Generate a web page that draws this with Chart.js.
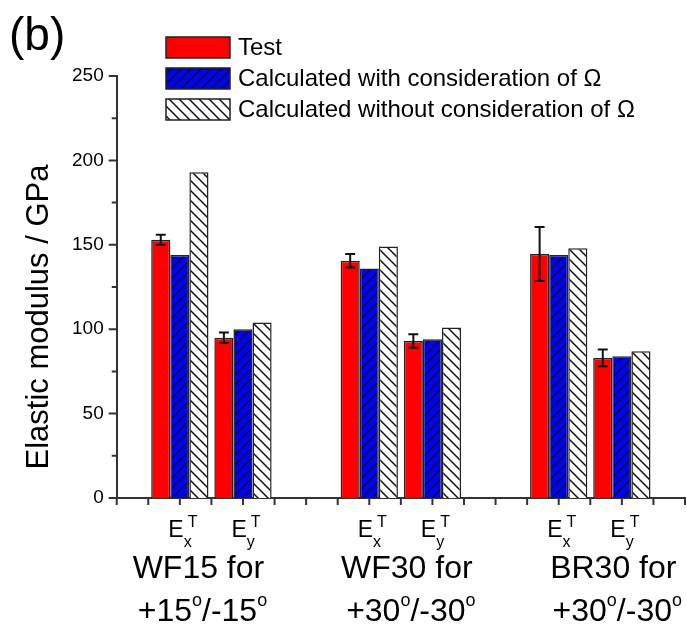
<!DOCTYPE html>
<html>
<head>
<meta charset="utf-8">
<script src="https://cdn.jsdelivr.net/npm/chart.js@4.4.0/dist/chart.umd.min.js"></script>
<style>
  html, body { margin: 0; padding: 0; background: #fff; }
  canvas { display: block; }
</style>
</head>
<body>
<canvas id="chart" width="687" height="632"></canvas>
<script>
// ── Data ─────────────────────────────────────────────────────────────────────
const groupNames  = ['WF15 for', 'WF30 for', 'BR30 for'];
const groupAngles = ['+15°/-15°', '+30°/-30°', '+30°/-30°'];
const components  = ['x', 'y'];               // E_x^T, E_y^T inside each group

const testVals     = [153, 95, 140.5, 93, 144.5, 83];
const testErr      = [3, 3, 4, 4, 16, 5];
const withOmega    = [144, 100, 136, 94, 144, 84];
const withoutOmega = [193, 104, 149, 101, 148, 87];

const seriesNames = ['Test', 'Calculated with consideration of Ω', 'Calculated without consideration of Ω'];
const yTicks = [0, 50, 100, 150, 200, 250];

// ── Layout helpers ───────────────────────────────────────────────────────────
const FONT = "'Liberation Sans', Arial, sans-serif";
const INK = '#111';

// bars sit on even slots of a 0..18 axis, with an empty pair of slots between groups
const slot = i => 2 + 2 * i + 2 * Math.floor(i / 2);
const asPoints = vals => vals.map((v, i) => ({ x: slot(i), y: v }));

function hatch(bg, forward) {
  const s = 10;
  const c = document.createElement('canvas');
  c.width = c.height = s;
  const g = c.getContext('2d');
  g.fillStyle = bg;
  g.fillRect(0, 0, s, s);
  g.strokeStyle = INK;
  g.lineWidth = 1.5;
  g.beginPath();
  if (forward) {           // "/"
    g.moveTo(-1, s + 1); g.lineTo(s + 1, -1);
    g.moveTo(-1, 1); g.lineTo(1, -1);
    g.moveTo(s - 1, s + 1); g.lineTo(s + 1, s - 1);
  } else {                 // "\"
    g.moveTo(-1, -1); g.lineTo(s + 1, s + 1);
    g.moveTo(s - 1, -1); g.lineTo(s + 1, 1);
    g.moveTo(-1, s - 1); g.lineTo(1, s + 1);
  }
  g.stroke();
  return g.createPattern(c, 'repeat');
}

const ctx0 = document.getElementById('chart').getContext('2d');
const fills = ['#ff0000', hatch('#0000ff', true), hatch('#ffffff', false)];

// ── Overlay: error bars, axis ticks, labels, legend ──────────────────────────
const overlay = {
  id: 'overlay',
  afterDraw(chart) {
    const { ctx, chartArea: a, scales: { x, y } } = chart;
    ctx.save();

    // error bars on the Test series
    const meta = chart.getDatasetMeta(0);
    ctx.strokeStyle = INK;
    ctx.lineWidth = 2;
    meta.data.forEach((bar, i) => {
      const yt = y.getPixelForValue(testVals[i] + testErr[i]);
      const yb = y.getPixelForValue(testVals[i] - testErr[i]);
      ctx.beginPath();
      ctx.moveTo(bar.x, yt); ctx.lineTo(bar.x, yb);
      ctx.moveTo(bar.x - 5, yt); ctx.lineTo(bar.x + 5, yt);
      ctx.moveTo(bar.x - 5, yb); ctx.lineTo(bar.x + 5, yb);
      ctx.stroke();
    });

    // x ticks at every slot
    ctx.strokeStyle = '#333';
    ctx.lineWidth = 2;
    ctx.beginPath();
    for (let v = x.min; v <= x.max; v++) {
      const px = x.getPixelForValue(v);
      ctx.moveTo(px, a.bottom); ctx.lineTo(px, a.bottom + 7);
    }
    // y ticks, major every 50 and minor every 25
    for (let v = y.min; v <= y.max; v += 25) {
      const py = y.getPixelForValue(v);
      const len = v % 50 === 0 ? 8 : 5;
      ctx.moveTo(a.left - len, py); ctx.lineTo(a.left, py);
    }
    ctx.stroke();

    // E_x^T / E_y^T under each bar group
    ctx.fillStyle = '#000';
    ctx.textBaseline = 'alphabetic';
    ctx.textAlign = 'left';
    testVals.forEach((_, i) => {
      const px = x.getPixelForValue(slot(i));
      const sub = components[i % 2];
      ctx.font = `23px ${FONT}`;
      const wE = ctx.measureText('E').width;
      ctx.font = `16px ${FONT}`;
      const wS = Math.max(ctx.measureText(sub).width, ctx.measureText('T').width + 4);
      const left = px - (wE + wS) / 2 + 3;
      ctx.font = `23px ${FONT}`;
      ctx.fillText('E', left, 537);
      ctx.font = `16px ${FONT}`;
      ctx.fillText(sub, left + wE, 547);
      ctx.fillText('T', left + wE + 4, 527);
    });

    // group captions, two lines, degree marks drawn as raised "o"
    const capShift = [-13, 6, 23];
    groupNames.forEach((name, g) => {
      const cx = (x.getPixelForValue(slot(2 * g)) + x.getPixelForValue(slot(2 * g + 1))) / 2 + capShift[g];
      ctx.font = `32px ${FONT}`;
      ctx.textAlign = 'center';
      ctx.fillText(name, cx, 578);

      const parts = groupAngles[g].split('°');
      ctx.textAlign = 'left';
      let w = 0;
      parts.forEach((p, k) => {
        ctx.font = `32px ${FONT}`;
        w += ctx.measureText(p).width;
        if (k < parts.length - 1) { ctx.font = `18px ${FONT}`; w += ctx.measureText('o').width; }
      });
      let cur = cx + 4 - w / 2;
      parts.forEach((p, k) => {
        ctx.font = `32px ${FONT}`;
        ctx.fillText(p, cur, 621);
        cur += ctx.measureText(p).width;
        if (k < parts.length - 1) {
          ctx.font = `18px ${FONT}`;
          ctx.fillText('o', cur, 606);
          cur += ctx.measureText('o').width;
        }
      });
    });

    // y axis title
    ctx.save();
    ctx.translate(39, (a.top + a.bottom) / 2 + 30);
    ctx.rotate(-Math.PI / 2);
    ctx.textAlign = 'center';
    ctx.textBaseline = 'middle';
    ctx.font = `31px ${FONT}`;
    ctx.fillText('Elastic modulus / GPa', 0, 0);
    ctx.restore();

    // panel tag
    ctx.font = `46px ${FONT}`;
    ctx.textAlign = 'left';
    ctx.fillText('(b)', 9, 50);

    // legend
    ctx.textBaseline = 'middle';
    seriesNames.forEach((name, k) => {
      const top = 37 + 31 * k;
      ctx.fillStyle = fills[k];
      ctx.fillRect(166, top, 64, 21);
      ctx.strokeStyle = '#222';
      ctx.lineWidth = 1.5;
      ctx.strokeRect(166, top, 64, 21);
      ctx.fillStyle = '#000';
      ctx.font = `24px ${FONT}`;
      ctx.fillText(name, 238, top + 11);
    });

    ctx.restore();
  }
};

// ── Chart ────────────────────────────────────────────────────────────────────
const barStyle = { borderColor: '#222', borderWidth: 1.5, categoryPercentage: 0.907, barPercentage: 1 };

new Chart(ctx0, {
  type: 'bar',
  data: {
    datasets: [
      { label: seriesNames[0], data: asPoints(testVals),     backgroundColor: fills[0], ...barStyle },
      { label: seriesNames[1], data: asPoints(withOmega),    backgroundColor: fills[1], ...barStyle },
      { label: seriesNames[2], data: asPoints(withoutOmega), backgroundColor: fills[2], ...barStyle },
    ]
  },
  options: {
    responsive: false,
    animation: false,
    devicePixelRatio: 1,
    layout: { padding: { top: 76, right: 2, left: 0, bottom: 0 } },
    scales: {
      x: {
        type: 'linear', min: 0, max: 18, offset: false,
        ticks: { display: false, stepSize: 2 },
        grid: { display: false },
        border: { display: true, color: '#333', width: 2 },
        afterFit: s => { s.height = 134; }
      },
      y: {
        min: 0, max: 250,
        afterBuildTicks: s => { s.ticks = yTicks.map(v => ({ value: v })); },
        ticks: { color: '#000', padding: 5, font: { family: FONT, size: 19 } },
        grid: { display: false },
        border: { display: true, color: '#333', width: 2 },
        afterFit: s => { s.width = 116.7; }
      }
    },
    plugins: { legend: { display: false }, tooltip: { enabled: false } }
  },
  plugins: [overlay]
});
</script>
</body>
</html>
